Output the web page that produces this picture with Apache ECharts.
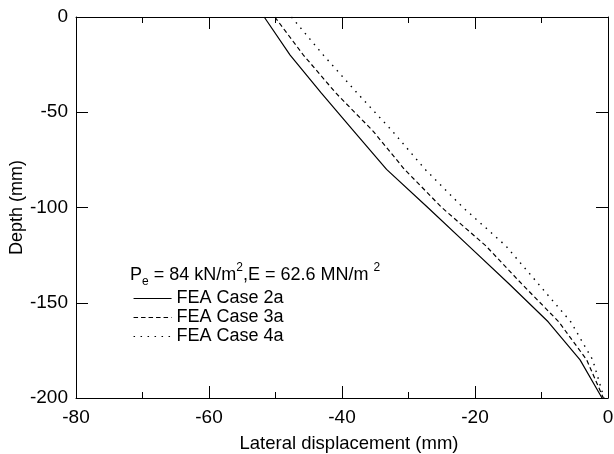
<!DOCTYPE html>
<html>
<head>
<meta charset="utf-8">
<script src="https://cdn.jsdelivr.net/npm/echarts@6/dist/echarts.min.js"></script>
<style>
  html, body { margin: 0; padding: 0; background: #fff; }
  #main { width: 614px; height: 454px; }
</style>
</head>
<body>
<div id="main"></div>
<script>
// depth (mm) for every reading
var depth = [0, -20, -40, -60, -80, -100, -120, -140, -160, -180, -200];
// lateral displacement (mm)
var case2a = [-51.7, -47.8, -43.1, -38.2, -33.3, -27.1, -21.0, -14.9, -9.0, -4.2, -0.9];
var case3a = [-50.1, -45.8, -40.9, -35.3, -30.6, -25.0, -18.4, -13.0, -7.4, -3.2, -0.7];
var case4a = [-47.6, -42.8, -37.7, -32.4, -27.5, -21.8, -15.4, -10.5, -5.6, -2.3, -0.6];
var seriesNames = ['FEA Case 2a', 'FEA Case 3a', 'FEA Case 4a'];

function pairs(xs) {
    var out = [];
    for (var i = 0; i < xs.length; i++) {
        out.push([xs[i], depth[i]]);
    }
    return out;
}

var font = 'Liberation Sans, Arial, sans-serif';
var chart = echarts.init(document.getElementById('main'));

var xBase = {
    type: 'value', min: -80, max: 0, interval: 20,
    axisLine: { show: true, onZero: false, lineStyle: { color: '#000', width: 1 } },
    axisTick: { show: true, inside: true, length: 12, lineStyle: { color: '#000', width: 1 } },
    minorTick: { show: true, splitNumber: 2, length: 6, lineStyle: { color: '#000', width: 1 } },
    splitLine: { show: false },
    minorSplitLine: { show: false }
};
var yBase = {
    type: 'value', min: -200, max: 0, interval: 50,
    axisLine: { show: true, onZero: false, lineStyle: { color: '#000', width: 1 } },
    axisTick: { show: true, inside: true, length: 12, lineStyle: { color: '#000', width: 1 } },
    splitLine: { show: false }
};

option = {
    animation: false,
    backgroundColor: '#fff',
    textStyle: { fontFamily: font },
    grid: { left: 76, right: 6, top: 17, bottom: 56, containLabel: false, outerBoundsMode: 'none' },
    title: {
        left: 130, top: 262, padding: 0,
        text: '{a|P}{s|e}{a| = 84 kN/m}{u|2}{a|,E = 62.6 MN/m }{u|2}',
        textStyle: {
            fontWeight: 'normal',
            rich: {
                a: { fontFamily: font, fontSize: 18, fontWeight: 'normal', color: '#000', lineHeight: 26, verticalAlign: 'middle' },
                s: { fontFamily: font, fontSize: 12, fontWeight: 'normal', color: '#000', lineHeight: 12, verticalAlign: 'bottom' },
                u: { fontFamily: font, fontSize: 12, fontWeight: 'normal', color: '#000', lineHeight: 10, verticalAlign: 'top' }
            }
        }
    },
    legend: {
        orient: 'vertical', left: 133, top: 289, padding: 0,
        itemWidth: 38, itemHeight: 12, itemGap: 0,
        data: seriesNames,
        itemStyle: { opacity: 0 },
        lineStyle: { width: 1.1 },
        textStyle: { fontFamily: font, fontSize: 18, color: '#000', lineHeight: 19 }
    },
    xAxis: [
        Object.assign({}, xBase, {
            position: 'bottom',
            name: 'Lateral displacement (mm)', nameLocation: 'middle', nameGap: 36,
            nameMoveOverlap: false,
            nameTextStyle: { fontFamily: font, fontSize: 18.5, color: '#000', padding: [0, 0, 0, 14] },
            axisLabel: { show: true, margin: 10, fontFamily: font, fontSize: 19, color: '#000' }
        }),
        Object.assign({}, xBase, { position: 'top', axisLabel: { show: false } })
    ],
    yAxis: [
        Object.assign({}, yBase, {
            position: 'left',
            name: 'Depth (mm)', nameLocation: 'middle', nameGap: 50,
            nameMoveOverlap: false,
            nameTextStyle: { fontFamily: font, fontSize: 18, color: '#000' },
            axisLabel: { show: true, margin: 8, fontFamily: font, fontSize: 19, color: '#000' }
        }),
        Object.assign({}, yBase, { position: 'right', axisLabel: { show: false } })
    ],
    series: [
        {
            name: seriesNames[0], type: 'line', data: pairs(case2a),
            symbol: 'none', showSymbol: false, color: '#000',
            lineStyle: { color: '#000', width: 1.2, type: 'solid' }
        },
        {
            name: seriesNames[1], type: 'line', data: pairs(case3a),
            symbol: 'none', showSymbol: false, color: '#000',
            lineStyle: { color: '#000', width: 1.2, type: [4.5, 3] }
        },
        {
            name: seriesNames[2], type: 'line', data: pairs(case4a),
            symbol: 'none', showSymbol: false, color: '#000',
            lineStyle: { color: '#000', width: 1.4, type: [1.5, 5.5] }
        }
    ]
};
chart.setOption(option);
</script>
</body>
</html>
